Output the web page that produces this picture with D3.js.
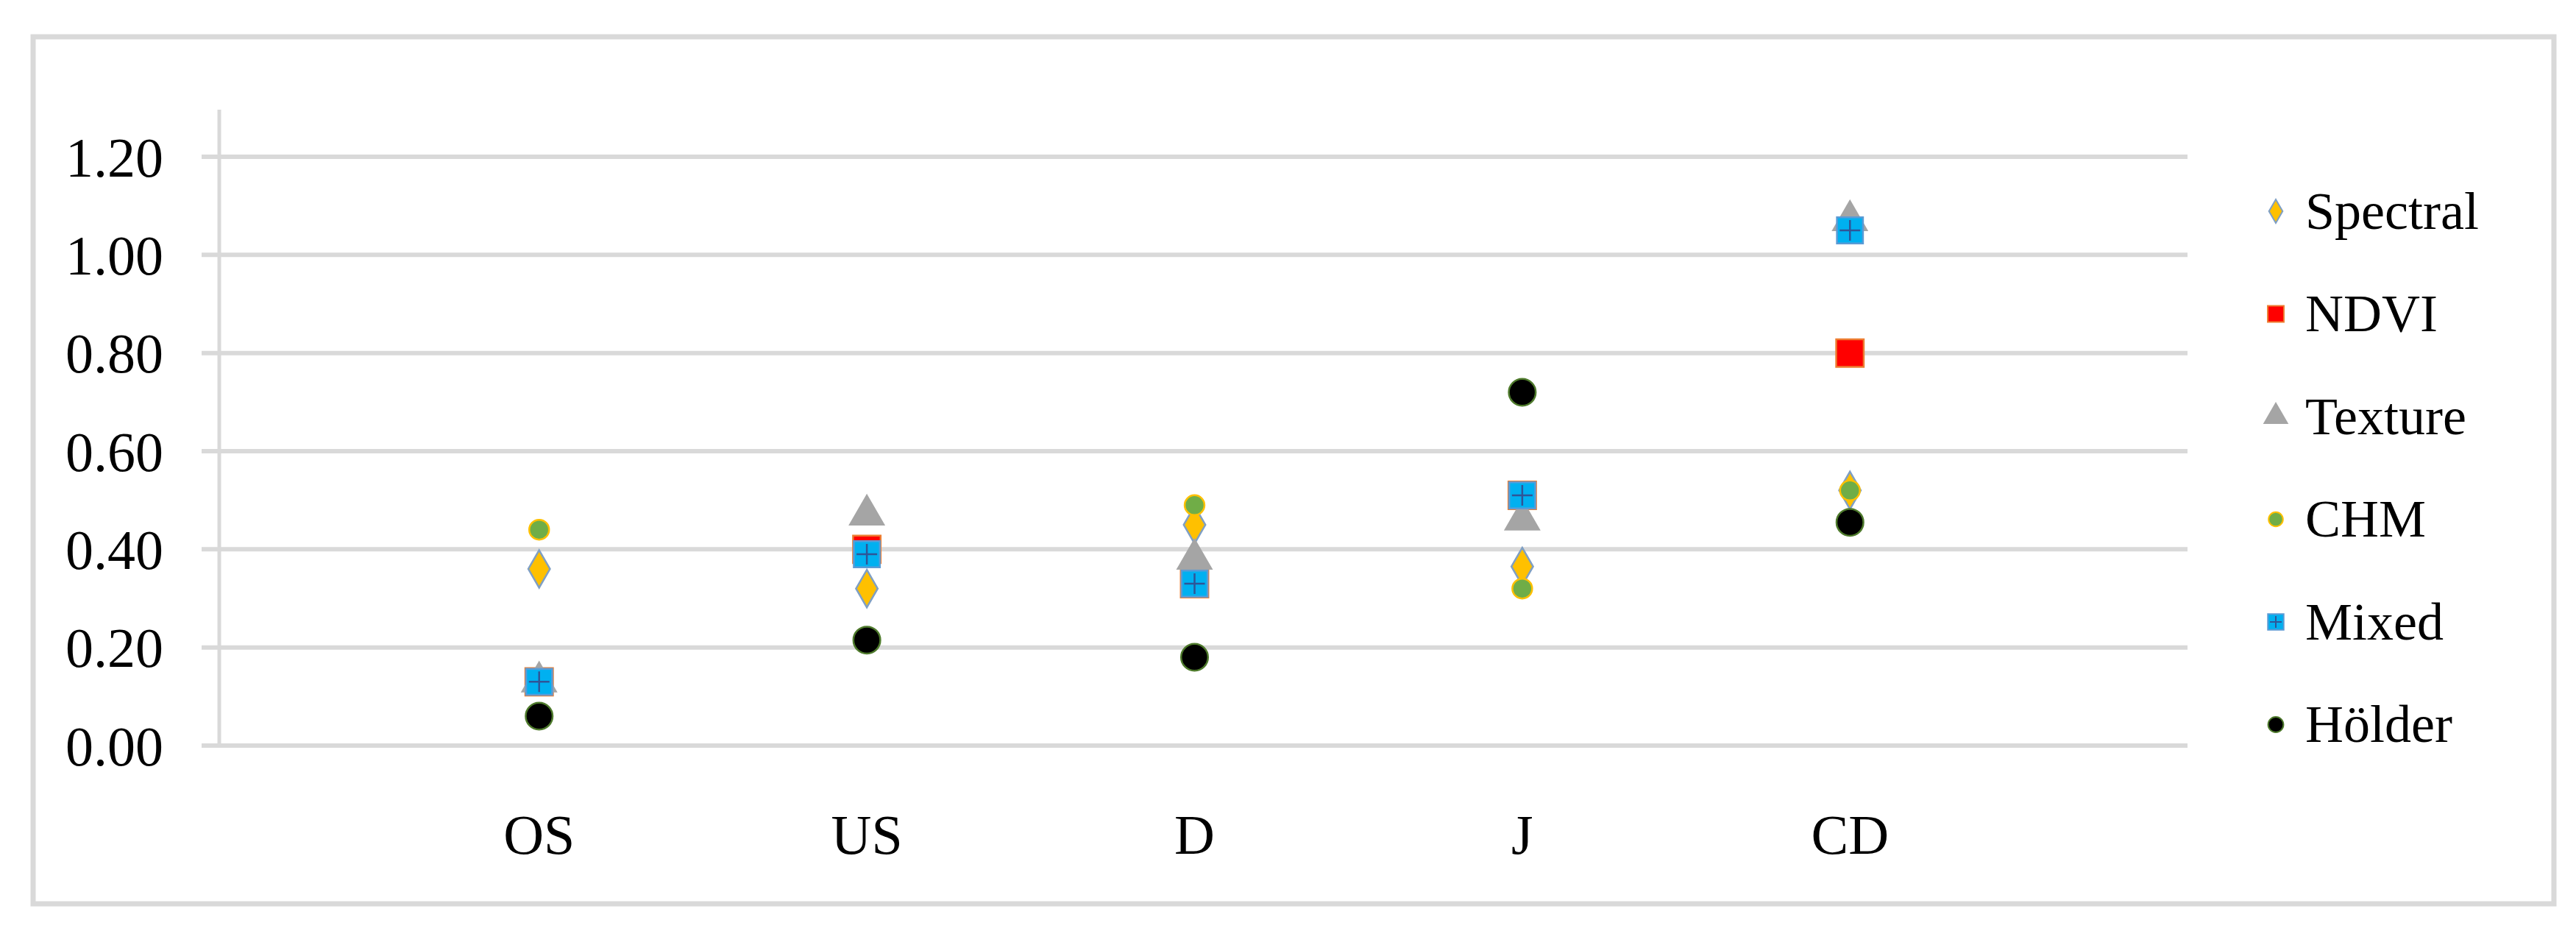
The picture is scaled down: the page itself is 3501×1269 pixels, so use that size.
<!DOCTYPE html>
<html>
<head>
<meta charset="utf-8">
<script src="https://cdn.jsdelivr.net/npm/d3@7"></script>
<style>
  body { margin: 0; background: #fff; }
  text { font-family: "Liberation Serif", "DejaVu Serif", serif; fill: #000; }
</style>
</head>
<body>
<svg id="chart" width="3501" height="1269"></svg>
<script>
// data
const categories = ["OS", "US", "D", "J", "CD"];
const seriesNames = ["Spectral", "NDVI", "Texture", "CHM", "Mixed", "Hölder"];
const spectral = [0.36, 0.32, 0.45, 0.365, 0.52];
const ndvi     = [0.13, 0.40, 0.33, 0.51, 0.80];
const texture  = [0.13, 0.47, 0.38, 0.46, 1.07];
const chm      = [0.44, 0.39, 0.49, 0.32, 0.52];
const mixed    = [0.13, 0.39, 0.33, 0.51, 1.05];
const holder   = [0.06, 0.215, 0.18, 0.72, 0.455];
const yTicks = [0, 0.2, 0.4, 0.6, 0.8, 1.0, 1.2];

const series = [
  { name: seriesNames[0], values: spectral, shape: d3.symbolDiamond, fill: "#ffc000", stroke: "#7f9fc4", size: 750, legSize: 300 },
  { name: seriesNames[1], values: ndvi, shape: d3.symbolSquare, fill: "#ff0000", stroke: "#ed7d31", size: 1400, legSize: 480 },
  { name: seriesNames[2], values: texture, shape: d3.symbolTriangle, fill: "#a5a5a5", stroke: "#a5a5a5", size: 900, legSize: 420 },
  { name: seriesNames[3], values: chm, shape: d3.symbolCircle, fill: "#70ad47", stroke: "#ffc000", size: 570, legSize: 300 },
  { name: seriesNames[4], values: mixed, shape: d3.symbolSquare, fill: "#00b0f0", stroke: "#5b9bd5", size: 1250, legSize: 460, cross: true },
  { name: seriesNames[5], values: holder, shape: d3.symbolCircle, fill: "#000000", stroke: "#4e7a2c", size: 1050, legSize: 340 }
];

const svg = d3.select("#chart");

// outer frame
svg.append("rect")
  .attr("x", 45).attr("y", 50).attr("width", 3426).attr("height", 1178)
  .attr("fill", "#fff").attr("stroke", "#d9d9d9").attr("stroke-width", 7);

const x = d3.scalePoint().domain(categories).range([274, 2973]).padding(1.03);
const y = d3.scaleLinear().domain([0, 1.2]).range([1013, 213]);

// gridlines
svg.append("g").selectAll("line")
  .data(yTicks).join("line")
  .attr("x1", 274).attr("x2", 2973)
  .attr("y1", d => y(d)).attr("y2", d => y(d))
  .attr("stroke", "#d9d9d9").attr("stroke-width", 6);

// vertical axis line
svg.append("line")
  .attr("x1", 298).attr("x2", 298).attr("y1", 149).attr("y2", 1013)
  .attr("stroke", "#d9d9d9").attr("stroke-width", 5);

// y tick labels
svg.append("g").selectAll("text")
  .data(yTicks).join("text")
  .attr("x", 222).attr("y", d => y(d))
  .attr("dy", "0.35em")
  .attr("text-anchor", "end")
  .attr("font-size", 76)
  .text(d3.format(".2f"));

// category labels
svg.append("g").selectAll("text")
  .data(categories).join("text")
  .attr("x", d => x(d)).attr("y", 1160)
  .attr("text-anchor", "middle")
  .attr("font-size", 76)
  .text(d => d);

// markers
series.forEach(s => {
  const sym = d3.symbol().type(s.shape).size(s.size);
  const g = svg.append("g").selectAll("g")
    .data(s.values).join("g")
    .attr("transform", (v, i) => `translate(${x(categories[i])},${y(v)})`);
  g.append("path")
    .attr("d", sym())
    .attr("fill", s.fill).attr("stroke", s.stroke).attr("stroke-width", 2.5);
  if (s.cross) {
    g.append("path")
      .attr("d", "M-14,0H14M0,-14V14")
      .attr("stroke", "#2f5597").attr("stroke-width", 2.5);
  }
});

// legend
const legend = svg.append("g").selectAll("g")
  .data(series).join("g")
  .attr("transform", (d, i) => `translate(3093,${287 + i * 139.5})`);
legend.append("path")
  .attr("d", d => d3.symbol().type(d.shape).size(d.legSize)())
  .attr("fill", d => d.fill).attr("stroke", d => d.stroke).attr("stroke-width", 2);
legend.filter(d => d.cross).append("path")
  .attr("d", "M-8,0H8M0,-8V8")
  .attr("stroke", "#2f5597").attr("stroke-width", 2);
legend.append("text")
  .attr("x", 40).attr("dy", "0.33em")
  .attr("font-size", 72)
  .text(d => d.name);
</script>
</body>
</html>
